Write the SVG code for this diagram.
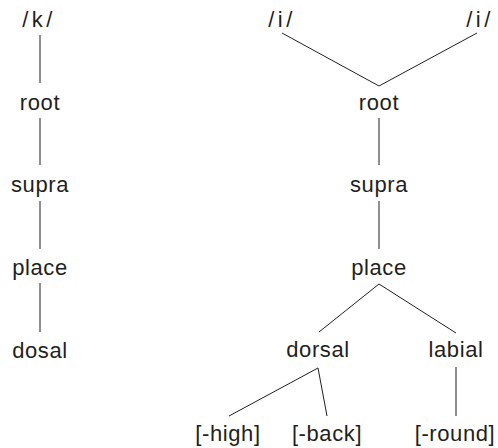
<svg xmlns="http://www.w3.org/2000/svg" width="498" height="448" viewBox="0 0 498 448">
  <style>
    text { font-family: "Liberation Sans", Arial, sans-serif; font-size: 22px; fill: #231f20; text-anchor: middle; letter-spacing: 0.6px; }
    text.seg { letter-spacing: 3.5px; }
    line { stroke: #231f20; stroke-width: 1; fill: none; }
  </style>
  <rect width="498" height="448" fill="#ffffff"/>

  <g id="connectors">
    <!-- left tree -->
    <line x1="40" y1="35" x2="40" y2="83"/>
    <line x1="40" y1="118" x2="40" y2="165"/>
    <line x1="40" y1="201" x2="40" y2="249"/>
    <line x1="40" y1="283" x2="40" y2="332"/>
    <!-- right tree -->
    <line x1="282" y1="33" x2="379" y2="86"/>
    <line x1="477" y1="33" x2="379" y2="86"/>
    <line x1="379" y1="118" x2="379" y2="165"/>
    <line x1="379" y1="201" x2="379" y2="249"/>
    <line x1="379" y1="284" x2="319" y2="332"/>
    <line x1="379" y1="284" x2="456" y2="333"/>
    <line x1="318" y1="368" x2="229" y2="416"/>
    <line x1="318" y1="368" x2="327" y2="416"/>
    <line x1="456" y1="367" x2="456" y2="416"/>
  </g>

  <g id="k"><text class="seg" x="39" y="27">/k/</text></g>
  <g id="root-left"><text x="40" y="110">root</text></g>
  <g id="supra-left"><text x="40" y="192">supra</text></g>
  <g id="place-left"><text x="40" y="275">place</text></g>
  <g id="dosal"><text x="40" y="358">dosal</text></g>

  <g id="i-left"><text class="seg" x="282" y="27">/i/</text></g>
  <g id="i-right"><text class="seg" x="480" y="27">/i/</text></g>
  <g id="root-right"><text x="379" y="110">root</text></g>
  <g id="supra-right"><text x="379" y="192">supra</text></g>
  <g id="place-right"><text x="379" y="275">place</text></g>
  <g id="dorsal"><text x="318" y="357">dorsal</text></g>
  <g id="labial"><text x="456" y="357">labial</text></g>
  <g id="high"><text x="228" y="441">[-high]</text></g>
  <g id="back"><text x="327" y="441">[-back]</text></g>
  <g id="round"><text x="455" y="441">[-round]</text></g>
</svg>
